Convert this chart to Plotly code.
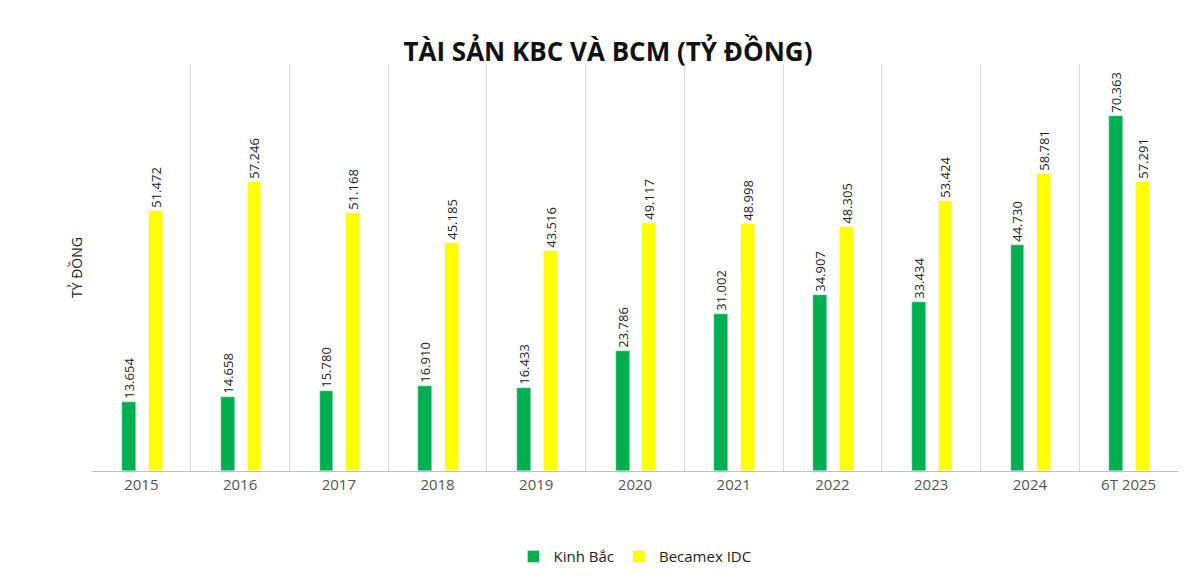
import plotly.graph_objects as go

categories = ["2015","2016","2017","2018","2019","2020","2021","2022","2023","2024","6T 2025"]
kinh_bac = [13654,14658,15780,16910,16433,23786,31002,34907,33434,44730,70363]
becamex = [51472,57246,51168,45185,43516,49117,48998,48305,53424,58781,57291]

def fmt(v):
    return f"{v:,}".replace(",", ".")

fig = go.Figure()
fig.add_trace(go.Bar(x=categories, y=kinh_bac, name="Kinh Bắc", marker_color="#00b050",
                     width=0.14, offset=-0.195, text=[fmt(v) for v in kinh_bac],
                     textposition="outside", textangle=-90, cliponaxis=False, constraintext="none",
                     textfont=dict(size=13, color="#222")))
fig.add_trace(go.Bar(x=categories, y=becamex, name="Becamex IDC", marker_color="#ffff00",
                     width=0.14, offset=0.075, text=[fmt(v) for v in becamex],
                     textposition="outside", textangle=-90, cliponaxis=False, constraintext="none",
                     textfont=dict(size=13, color="#222")))
fig.update_layout(
    width=1200, height=583, paper_bgcolor="white", plot_bgcolor="white",
    font=dict(family="Open Sans, Arial", color="#444"),
    title=dict(text="<b>TÀI SẢN KBC VÀ BCM (TỶ ĐỒNG)</b>", x=0.5, y=0.94, xanchor="center",
               font=dict(size=26, color="#111", family="Open Sans")),
    margin=dict(l=84, r=30, t=56, b=120),
    showlegend=True,
    legend=dict(orientation="h", x=0.5, xanchor="center", y=-0.17, yanchor="top",
                font=dict(size=15, color="#222")),
    xaxis=dict(type="category", tickson="boundaries", showgrid=True, gridcolor="#d9d9d9",
               showline=True, linecolor="#bfbfbf", ticks="",
               tickfont=dict(size=15, color="#555")),
    yaxis=dict(range=[0, 80600], showgrid=False, showticklabels=False, zeroline=False,
               title=dict(text="TỶ ĐỒNG", font=dict(size=14, color="#222"), standoff=5)),
    bargap=0,
)
fig.write_html("out.html")
